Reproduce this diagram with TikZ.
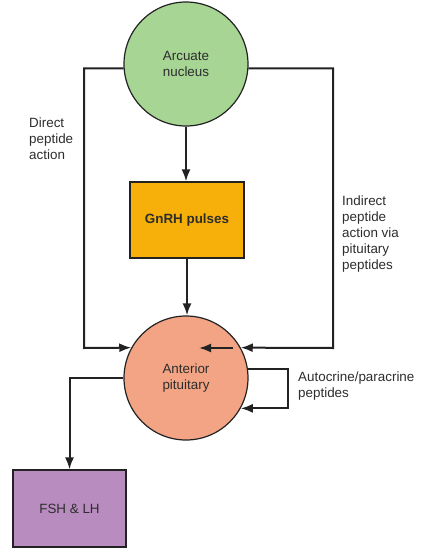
\documentclass[tikz,border=0pt]{standalone}
\usepackage{fontspec}
\setmainfont{Liberation Sans}
\usetikzlibrary{arrows.meta,calc}
\definecolor{arcgreen}{RGB}{166,213,148}
\definecolor{gnrhorange}{RGB}{247,176,10}
\definecolor{antsalmon}{RGB}{242,164,132}
\definecolor{fshpurple}{RGB}{184,140,190}
\definecolor{linecol}{RGB}{34,34,34}
\definecolor{txtcol}{RGB}{45,45,45}
\begin{document}
\begin{tikzpicture}[x=1pt,y=-1pt,
  txt/.style={font=\fontsize{13.4}{16}\selectfont,text=txtcol},
  circ/.style={circle,draw=linecol,line width=1.2pt,minimum size=124pt,inner sep=0pt,align=center,txt},
  boxn/.style={rectangle,draw=linecol,line width=1.2pt,inner sep=0pt,align=center,txt},
  conn/.style={draw=linecol,line width=2pt,-{Latex[length=12pt,width=9pt]}},
  lbl/.style={align=left,anchor=west,inner sep=0pt,txt}]
\useasboundingbox[fill=white] (0,0) rectangle (424,555);
\node[circ,fill=arcgreen] (arc) at (186,64) {Arcuate\\nucleus};
\node[boxn,fill=gnrhorange,minimum width=114pt,minimum height=76pt,font=\fontsize{13.4}{16}\selectfont\bfseries] (gnrh) at (187,220) {GnRH pulses};
\node[circ,fill=antsalmon] (ant) at (186,378) {Anterior\\pituitary};
\node[boxn,fill=fshpurple,minimum width=113pt,minimum height=77pt] (fsh) at (69.5,508.5) {FSH \& LH};
\coordinate (dl) at (84,348);
\coordinate (dr) at (333,348);
\coordinate (lp) at (288,369);
\coordinate (ia1) at (233,348);
\coordinate (ia2) at (199,348);
\draw[conn] (arc.south) -- (arc.south |- gnrh.north);
\draw[conn] (gnrh.south) -- (gnrh.south |- ant.north);
\draw[conn] (arc.184) -| (dl) -- (ant.151);
\draw[conn] (arc.-4) -| (dr) -- (ant.29);
\draw[conn] (ia1) -- (ia2);
\draw[conn] (ant.8) -- (ant.8 -| lp) |- (ant.-29);
\draw[conn] (ant.west) -| (fsh.north);
\node[lbl] (ldirect) at (29,139) {Direct\\peptide\\action};
\node[lbl] (lindirect) at (342,234) {Indirect\\peptide\\action via\\pituitary\\peptides};
\node[lbl] (lauto) at (298,386) {Autocrine/paracrine\\peptides};
\end{tikzpicture}
\end{document}
